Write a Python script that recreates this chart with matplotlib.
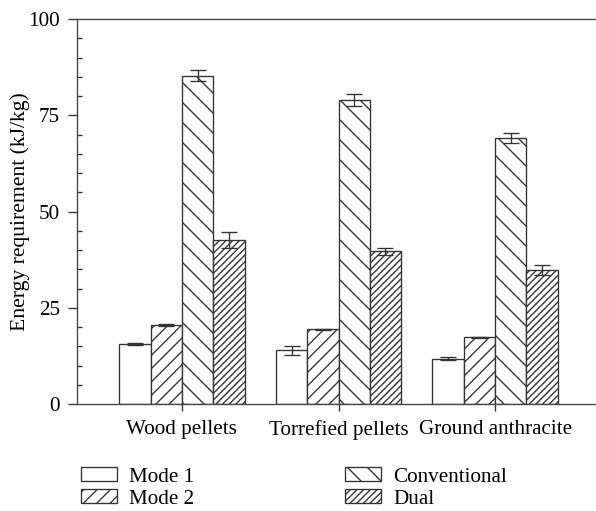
import numpy as np
import matplotlib
matplotlib.use("Agg")
from matplotlib import pyplot as plt
from matplotlib.patches import Patch
from matplotlib.ticker import MultipleLocator

# values
categories = ['Wood pellets', 'Torrefied pellets', 'Ground anthracite']
series_names = ['Mode 1', 'Mode 2', 'Conventional', 'Dual']
mode1 = [15.5, 13.9, 11.8]
mode1_err = [0.3, 1.1, 0.5]
mode2 = [20.5, 19.4, 17.3]
mode2_err = [0.3, 0.2, 0.2]
conventional = [85.3, 79.0, 69.0]
conventional_err = [1.5, 1.5, 1.3]
dual = [42.6, 39.7, 34.8]
dual_err = [2.1, 0.9, 1.3]
y_ticks = [0, 25, 50, 75, 100]

plt.rcParams['font.family'] = ['Liberation Serif', 'DejaVu Serif']
plt.rcParams['hatch.linewidth'] = 0.8

edge = '#333333'
dpi = 120
fig = plt.figure(figsize=(596 / dpi, 511 / dpi), dpi=dpi)
ax = fig.add_axes([77 / 596, 107 / 511, 523 / 596, 385 / 511])

x = np.arange(len(categories))
w = 0.2
values = [mode1, mode2, conventional, dual]
errors = [mode1_err, mode2_err, conventional_err, dual_err]
hatches = ['', '///', '\\\\', '//////']
offsets = [-1.5, -0.5, 0.5, 1.5]

for vals, errs, hatch, off in zip(values, errors, hatches, offsets):
    ax.bar(x + off * w, vals, w, color='white', edgecolor=edge,
           linewidth=0.8, hatch=hatch, zorder=2)
    ax.errorbar(x + off * w, vals, yerr=errs, fmt='none', ecolor=edge,
                elinewidth=0.8, capsize=5, capthick=0.8, zorder=3)

ax.set_xlim(-0.67, 2.67)
ax.set_ylim(0, 100)
ax.set_xticks(x)
ax.set_xticklabels(categories, fontsize=12.7)
ax.set_yticks(y_ticks)
ax.set_yticklabels([str(t) for t in y_ticks], fontsize=12.7)
ax.yaxis.set_minor_locator(MultipleLocator(5))
ax.tick_params(axis='y', which='major', direction='out', length=5.4,
               width=0.8, color=edge, pad=4.8)
ax.tick_params(axis='y', which='minor', direction='in', length=3,
               width=0.8, color=edge)
ax.tick_params(axis='x', which='major', direction='out', length=4.2,
               width=0.8, color=edge, pad=5.5)
ax.set_ylabel('Energy requirement (kJ/kg)', fontsize=13, labelpad=-1)

for s in ax.spines.values():
    s.set_color('#444444')
    s.set_linewidth(0.8)

# legend in two separate columns like the original
handles = [Patch(facecolor='white', edgecolor=edge, linewidth=0.8, hatch=h)
           for h in hatches]
leg_kw = dict(frameon=False, fontsize=12.7, handlelength=1.7,
              handleheight=0.66, handletextpad=0.57, labelspacing=0.12,
              borderpad=0, borderaxespad=0, loc='upper left')
leg1 = fig.legend(handles[:2], series_names[:2],
                  bbox_to_anchor=(81 / 596, 1 - 467 / 511), **leg_kw)
leg2 = fig.legend(handles[2:], series_names[2:],
                  bbox_to_anchor=(345 / 596, 1 - 467 / 511), **leg_kw)

fig.savefig('out.png', dpi=dpi)
